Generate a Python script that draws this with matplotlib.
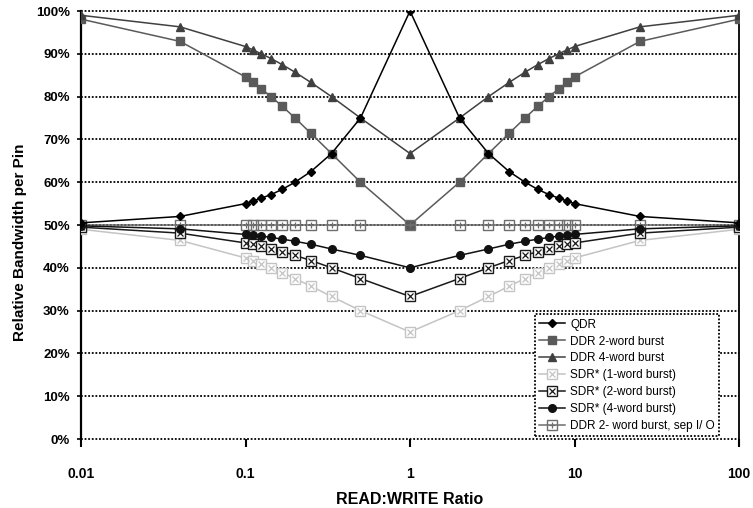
import matplotlib
matplotlib.use("Agg")
import matplotlib.pyplot as plt
from matplotlib.legend_handler import HandlerTuple
from matplotlib.ticker import FixedLocator, NullLocator

plt.rcParams['font.family'] = ['Liberation Sans', 'DejaVu Sans']

# READ:WRITE ratio
ratio = [0.01, 0.04, 0.1, 1/9, 1/8, 1/7, 1/6, 1/5, 1/4, 1/3, 1/2, 1,
         2, 3, 4, 5, 6, 7, 8, 9, 10, 25, 100]

# Relative bandwidth per pin (%)
qdr = [50.5, 52.0, 55.0, 55.6, 56.3, 57.1, 58.3, 60.0, 62.5, 66.7, 75.0, 100.0,
       75.0, 66.7, 62.5, 60.0, 58.3, 57.1, 56.3, 55.6, 55.0, 52.0, 50.5]
ddr2 = [98.1, 92.9, 84.6, 83.3, 81.8, 80.0, 77.8, 75.0, 71.4, 66.7, 60.0, 50.0,
        60.0, 66.7, 71.4, 75.0, 77.8, 80.0, 81.8, 83.3, 84.6, 92.9, 98.1]
ddr4 = [99.0, 96.3, 91.7, 90.9, 90.0, 88.9, 87.5, 85.7, 83.3, 80.0, 75.0, 66.7,
        75.0, 80.0, 83.3, 85.7, 87.5, 88.9, 90.0, 90.9, 91.7, 96.3, 99.0]
sdr1 = [49.0, 46.4, 42.3, 41.7, 40.9, 40.0, 38.9, 37.5, 35.7, 33.3, 30.0, 25.0,
        30.0, 33.3, 35.7, 37.5, 38.9, 40.0, 40.9, 41.7, 42.3, 46.4, 49.0]
sdr2 = [49.5, 48.1, 45.8, 45.5, 45.0, 44.4, 43.8, 42.9, 41.7, 40.0, 37.5, 33.3,
        37.5, 40.0, 41.7, 42.9, 43.8, 44.4, 45.0, 45.5, 45.8, 48.1, 49.5]
sdr4 = [49.8, 49.1, 47.8, 47.6, 47.4, 47.1, 46.7, 46.2, 45.5, 44.4, 42.9, 40.0,
        42.9, 44.4, 45.5, 46.2, 46.7, 47.1, 47.4, 47.6, 47.8, 49.1, 49.8]
ddr2_sep = [50.0] * 23

labels = ["QDR", "DDR 2-word burst", "DDR 4-word burst", "SDR* (1-word burst)",
          "SDR* (2-word burst)", "SDR* (4-word burst)", "DDR 2- word burst, sep I/ O"]
yticks = [0, 10, 20, 30, 40, 50, 60, 70, 80, 90, 100]
xticks = [0.01, 0.1, 1, 10, 100]
xticklabels = ["0.01", "0.1", "1", "10", "100"]

fig = plt.figure(figsize=(7.53, 5.08), dpi=100)
ax = fig.add_axes([81/753, 1-439/508, 658/753, 428/508])

handles = []
h, = ax.plot(ratio, qdr, color='#000000', lw=1.1, marker='D', ms=4.5,
             mfc='#000000', mec='#000000', zorder=5)
handles.append(h)
h, = ax.plot(ratio, ddr2, color='#5a5a5a', lw=1.1, marker='s', ms=5.5,
             mfc='#5a5a5a', mec='#5a5a5a', zorder=3)
handles.append(h)
h, = ax.plot(ratio, ddr4, color='#404040', lw=1.1, marker='^', ms=6,
             mfc='#404040', mec='#404040', zorder=3)
handles.append(h)
h1, = ax.plot(ratio, sdr1, color='#c4c4c4', lw=1.1, marker='s', ms=7,
              mfc='white', mec='#c4c4c4', mew=1.0, zorder=3)
h2, = ax.plot(ratio, sdr1, ls='none', marker='x', ms=5, mec='#c4c4c4', mew=0.9, zorder=3)
handles.append((h1, h2))
h1, = ax.plot(ratio, sdr2, color='#1a1a1a', lw=1.1, marker='s', ms=7,
              mfc='white', mec='#1a1a1a', mew=1.0, zorder=4)
h2, = ax.plot(ratio, sdr2, ls='none', marker='x', ms=5, mec='#1a1a1a', mew=0.9, zorder=4)
handles.append((h1, h2))
h, = ax.plot(ratio, sdr4, color='#111111', lw=1.1, marker='o', ms=5.5,
             mfc='#111111', mec='#111111', zorder=4)
handles.append(h)
h1, = ax.plot(ratio, ddr2_sep, color='#6e6e6e', lw=1.1, marker='s', ms=7,
              mfc='none', mec='#6e6e6e', mew=1.0, zorder=3)
h2, = ax.plot(ratio, ddr2_sep, ls='none', marker='+', ms=5, mec='#6e6e6e', mew=0.9, zorder=3)
handles.append((h1, h2))

ax.set_xscale('log')
ax.set_xlim(0.01, 100)
ax.set_ylim(0, 100)

ax.xaxis.set_major_locator(FixedLocator(xticks))
ax.xaxis.set_minor_locator(NullLocator())
ax.set_xticklabels(xticklabels)
ax.set_yticks(yticks)
ax.set_yticklabels([f"{v}%" for v in yticks])

for lab in ax.get_xticklabels() + ax.get_yticklabels():
    lab.set_fontweight('bold')
ax.tick_params(axis='x', direction='out', length=6, width=1.5, pad=14, labelsize=10)
ax.tick_params(axis='y', direction='out', length=3, width=1.2, pad=5, labelsize=9.5)

# grid & frame
for v in yticks:
    ax.axhline(v, color='black', lw=1.3, ls=(0, (1, 1)), zorder=1, clip_on=False)
ax.spines['top'].set_visible(False)
ax.spines['bottom'].set_visible(False)
ax.spines['right'].set_linestyle((0, (1, 1)))
ax.spines['right'].set_linewidth(1.3)
ax.spines['left'].set_linewidth(1.6)

fig.text(410/753, 1-499/508, "READ:WRITE Ratio", fontsize=11.5, fontweight='bold',
         ha='center', va='center')
fig.text(20/753, 1-242/508, "Relative Bandwidth per Pin", rotation=90,
         fontsize=11, fontweight='bold', ha='center', va='center')

leg = ax.legend(handles, labels, loc='lower left', bbox_to_anchor=(0.69, 0.006),
                handler_map={tuple: HandlerTuple(ndivide=1)},
                fontsize=8.5, frameon=True, fancybox=False, framealpha=1,
                edgecolor='black', borderpad=0.35, labelspacing=0.42,
                handlelength=2.2, handletextpad=0.45, borderaxespad=0)
leg.get_frame().set_linestyle((0, (1, 1)))
leg.get_frame().set_linewidth(1.3)
leg.set_zorder(10)

fig.savefig("out.png", dpi=100)
